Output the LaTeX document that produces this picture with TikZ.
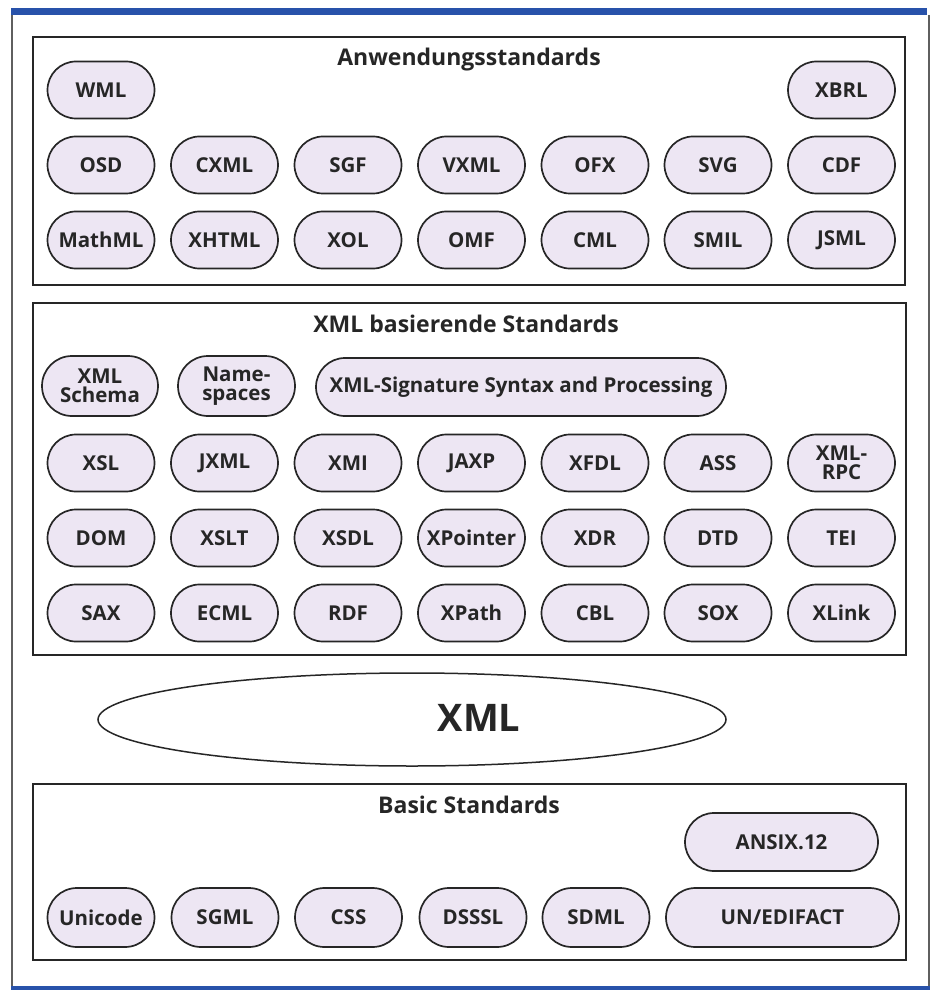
\documentclass[tikz,border=0pt]{standalone}
\usepackage{fontspec}
\setmainfont{Open Sans}
\usetikzlibrary{shapes.misc,shapes.geometric}

\definecolor{pillfill}{RGB}{237,230,243}
\definecolor{inkgray}{RGB}{38,38,38}
\definecolor{barblue}{RGB}{40,82,170}
\definecolor{framegray}{RGB}{95,95,95}

\tikzset{
  pill/.style={rounded rectangle, draw=inkgray, line width=1.7pt, fill=pillfill,
    minimum width=107pt, minimum height=57pt, inner sep=0pt, text=inkgray,
    align=center, font=\fontsize{20.5}{18.5}\selectfont\bfseries},
  groupbox/.style={draw=inkgray, line width=1.5pt},
  grouptitle/.style={anchor=base, text=inkgray, inner sep=0pt,
    font=\fontsize{23}{25}\selectfont\bfseries},
}

\begin{document}
\begin{tikzpicture}[x=1pt,y=-1pt]
\useasboundingbox (0,0) rectangle (935,992);
\fill[white] (0,0) rectangle (935,992);

% outer frame: blue bar on top, thin blue rule at the bottom
\fill[barblue] (11,8) rectangle (927,15);
\draw[framegray, line width=1.2pt] (12,15) -- (12,987);
\draw[framegray, line width=1.2pt] (929,15) -- (929,987);
\fill[barblue] (11,986) rectangle (930,990);

% ---------------- Anwendungsstandards ----------------
\draw[groupbox] (33,37) rectangle (905,285);
\node[grouptitle] (t1) at (469,66) {Anwendungsstandards};

\node[pill] (wml)  at (101,90)   {WML};
\node[pill] (xbrl) at (841.5,90) {XBRL};

\node[pill] (osd)  at (101,165)   {OSD};
\node[pill] (cxml) at (224.5,165) {CXML};
\node[pill] (sgf)  at (348,165)   {SGF};
\node[pill] (vxml) at (471.5,165) {VXML};
\node[pill] (ofx)  at (595,165)   {OFX};
\node[pill] (svg)  at (718,165)   {SVG};
\node[pill] (cdf)  at (841.5,165) {CDF};

\node[pill] (mathml) at (101,240)   {MathML};
\node[pill] (xhtml)  at (224.5,240) {XHTML};
\node[pill] (xol)    at (348,240)   {XOL};
\node[pill] (omf)    at (471.5,240) {OMF};
\node[pill] (cml)    at (595,240)   {CML};
\node[pill] (smil)   at (718,240)   {SMIL};
\node[pill] (jsml)   at (841.5,240) {JSML};

% ---------------- XML basierende Standards ----------------
\draw[groupbox] (33,303) rectangle (906,655);
\node[grouptitle] (t2) at (466,332) {XML basierende Standards};

\node[pill, minimum width=116pt, minimum height=60pt] (schema) at (100,386) {XML\\Schema};
\node[pill, minimum width=117pt, minimum height=60pt] (ns) at (236.5,386) {Name-\\spaces};
\node[pill, minimum width=410pt, minimum height=58pt] (sig) at (521,387) {XML-Signature Syntax and Processing};

\node[pill] (xsl)    at (101,463)   {XSL};
\node[pill] (jxml)   at (224.5,463) {JXML};
\node[pill] (xmi)    at (348,463)   {XMI};
\node[pill] (jaxp)   at (471.5,463) {JAXP};
\node[pill] (xfdl)   at (595,463)   {XFDL};
\node[pill] (ass)    at (718,463)   {ASS};
\node[pill] (xmlrpc) at (841.5,463) {XML-\\RPC};

\node[pill] (dom)      at (101,538)   {DOM};
\node[pill] (xslt)     at (224.5,538) {XSLT};
\node[pill] (xsdl)     at (348,538)   {XSDL};
\node[pill] (xpointer) at (471.5,538) {XPointer};
\node[pill] (xdr)      at (595,538)   {XDR};
\node[pill] (dtd)      at (718,538)   {DTD};
\node[pill] (tei)      at (841.5,538) {TEI};

\node[pill] (sax)   at (101,613)   {SAX};
\node[pill] (ecml)  at (224.5,613) {ECML};
\node[pill] (rdf)   at (348,613)   {RDF};
\node[pill] (xpath) at (471.5,613) {XPath};
\node[pill] (cbl)   at (595,613)   {CBL};
\node[pill] (sox)   at (718,613)   {SOX};
\node[pill] (xlink) at (841.5,613) {XLink};

% ---------------- XML ----------------
\node[ellipse, draw=inkgray, line width=1.5pt, minimum width=628pt, minimum height=93pt, inner sep=0pt]
  (xmlell) at (412,719.5) {};
\node[text=inkgray, inner sep=0pt, font=\fontsize{38}{40}\selectfont\bfseries] (xmltext) at (479,717.5) {XML};

% ---------------- Basic Standards ----------------
\draw[groupbox] (33,784) rectangle (906,960);
\node[grouptitle] (t3) at (469,813) {Basic Standards};

\node[pill, minimum width=193pt, minimum height=58pt] (ansi) at (781.5,842) {ANSIX.12};

\node[pill, minimum height=59pt] (unicode) at (101,917.5)   {Unicode};
\node[pill, minimum height=59pt] (sgml)    at (225,917.5)   {SGML};
\node[pill, minimum height=59pt] (css)     at (348.5,917.5) {CSS};
\node[pill, minimum height=59pt] (dsssl)   at (473,917.5)   {DSSSL};
\node[pill, minimum height=59pt] (sdml)    at (596,917.5)   {SDML};
\node[pill, minimum width=233pt, minimum height=59pt] (edifact) at (782.5,917.5) {UN/EDIFACT};
\end{tikzpicture}
\end{document}
